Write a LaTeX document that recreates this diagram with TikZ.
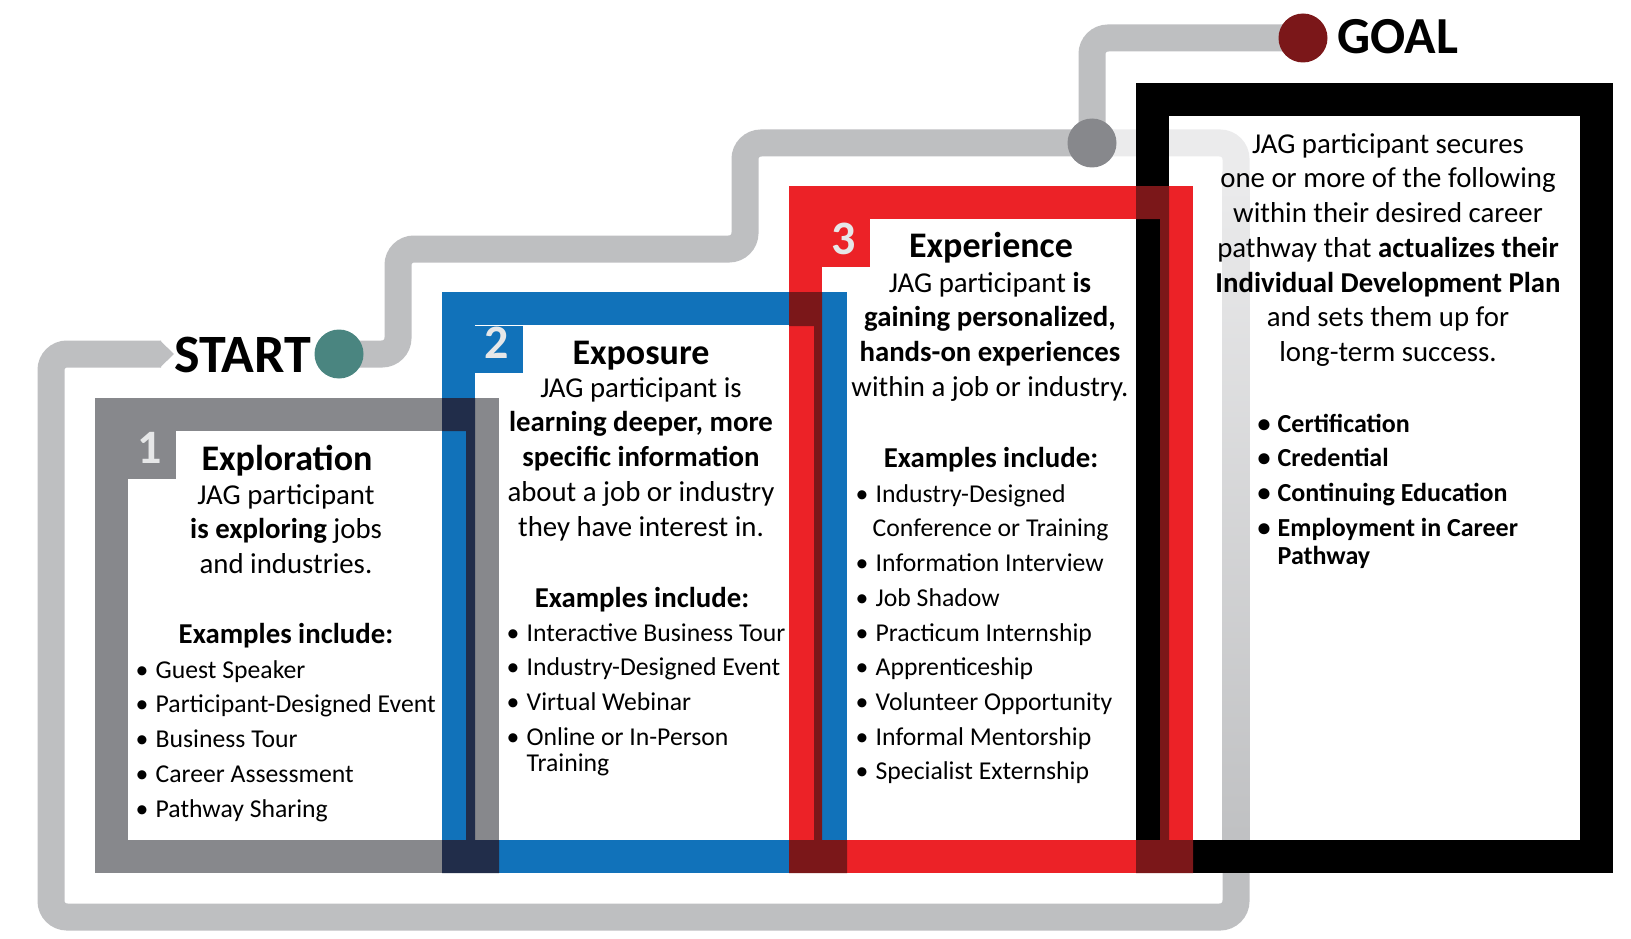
\documentclass[tikz,border=0pt]{standalone}
\usepackage{fontspec}
\setmainfont{Carlito}
\usetikzlibrary{backgrounds}

\definecolor{pathgray}{HTML}{BEBFC1}
\definecolor{pathlight}{HTML}{EBEBEC}
\definecolor{stepgray}{HTML}{87888C}
\definecolor{stepblue}{HTML}{1172BA}
\definecolor{stepred}{HTML}{EC2227}
\definecolor{stepnavy}{HTML}{212D4A}
\definecolor{stepdark}{HTML}{7B1719}
\definecolor{startteal}{HTML}{4A8580}
\definecolor{numgray}{HTML}{E6E7E8}

\newcommand{\stepbullet}{\makebox[20pt][l]{\textbullet}}

\begin{document}
\begin{tikzpicture}[x=1pt, y=-1pt,
    road/.style={line width=27pt, pathgray, rounded corners=16pt},
    stepband/.style={line width=33pt},
    pathdot/.style={circle, minimum size=49pt, inner sep=0pt},
    stepnum/.style={font=\fontsize{48}{48}\selectfont\bfseries, text=numgray, inner sep=0pt},
    steptitle/.style={font=\fontsize{36}{40}\selectfont\bfseries, anchor=base, inner sep=0pt},
    stepsub/.style={font=\fontsize{28.8}{34.7}\selectfont\bfseries, anchor=base, inner sep=0pt},
    stepbody/.style={font=\fontsize{28.8}{34.7}\selectfont, align=center, anchor=north, inner sep=0pt},
    steplist/.style={font=\fontsize{25.7}{34.7}\selectfont, align=left, anchor=north west, inner sep=0pt},
    bigword/.style={anchor=base west, inner sep=0pt}]
       \useasboundingbox (0,0) rectangle (1631,939);

       % the four steps
       \draw[stepband, stepgray]  (111.5,414.5) rectangle (482.5,856.5);
       \draw[stepband, stepblue]  (458.5,308.5) rectangle (830.5,856.5);
       \draw[stepband, stepred]   (805.5,202.5) rectangle (1176.5,856.5);
       \draw[stepband, black]     (1152.5,99.5) rectangle (1596.5,856.5);
       \fill[stepnavy] (442,398) rectangle (475,431) (466,398) rectangle (475,873)
                       (442,840) rectangle (499,873);
       \fill[stepdark] (789,292) rectangle (822,326) (814,292) rectangle (822,873)
                       (789,840) rectangle (847,873);
       \fill[stepdark] (1136,186) rectangle (1169,219) (1160,186) rectangle (1169,873)
                       (1136,840) rectangle (1193,873);
       \fill[stepgray] (127,431) rectangle (176,479);
       \fill[stepblue] (475,326) rectangle (523,373);
       \fill[stepred]  (822,219) rectangle (870,267);
       \node at (150,448) [stepnum] (num1) {1};
       \node at (497,343) [stepnum] (num2) {2};
       \node at (844,239) [stepnum] (num3) {3};

       % start and goal
       \node at (339,354) [pathdot, fill=startteal] (startdot) {};
       \node at (1092,143) [pathdot, fill=stepgray] (middot) {};
       \node at (1303,38) [pathdot, fill=stepdark] (goaldot) {};
       \coordinate (starttip) at (161,354);
       \node at (174,372) [bigword, font=\fontsize{54}{54}\selectfont\bfseries] (starttxt) {START};
       \node at (1337,54) [bigword, font=\fontsize{52}{52}\selectfont\bfseries] (goaltxt) {GOAL};

       \begin{scope}[on background layer]
         \draw[road] (startdot.center) -- (398,354) -- (398,249) -- (745,249)
                     -- (745,143) -- (middot.center);
         \draw[road] (middot.center) |- (goaldot.center);
         \fill[pathgray] (160,340.5) -- (174,354) -- (160,367.5) -- cycle;
         \draw[road] (starttip) -- (51,354) -- (51,917) -- (1236,917) -- (1236,860);
         \draw[road, pathlight] (middot.center) -- (1236,143) -- (1236,180);
         \shade[top color=pathlight, bottom color=pathgray] (1222.5,172) rectangle (1249.5,866);
       \end{scope}

       % step 1
       \node at (287,470) [steptitle] (title1) {Exploration};
       \node at (286,482) [stepbody] (body1) {\rule{0pt}{22pt}JAG participant\\
         {\bfseries is exploring} jobs\\and industries.};
       \node at (286,643) [stepsub] (sub1) {Examples include:};
       \node at (135.5,656) [steplist] (list1) {\rule{0pt}{22pt}\stepbullet Guest Speaker\\
         \stepbullet Participant-Designed Event\\\stepbullet Business Tour\\
         \stepbullet Career Assessment\\\stepbullet Pathway Sharing};

       % step 2
       \node at (641,364) [steptitle] (title2) {Exposure};
       \node at (641,375) [stepbody] (body2) {\rule{0pt}{22pt}JAG participant is\\
         {\bfseries learning deeper, more}\\{\bfseries specific information}\\
         about a job or industry\\they have interest in.};
       \node at (642,607) [stepsub] (sub2) {Examples include:};
       \node at (506.5,619) [steplist] (list2) {\rule{0pt}{22pt}\stepbullet Interactive Business Tour\\
         \stepbullet Industry-Designed Event\\\stepbullet Virtual Webinar\\
         \stepbullet Online or In-Person\\[-8.7pt]\hspace*{20pt}Training};

       % step 3
       \node at (991,257) [steptitle] (title3) {Experience};
       \node at (990,270) [stepbody] (body3) {\rule{0pt}{22pt}JAG participant {\bfseries is}\\
         {\bfseries gaining personalized,}\\{\bfseries hands-on experiences}\\
         within a job or industry.};
       \node at (991,467) [stepsub] (sub3) {Examples include:};
       \node at (855.5,480) [steplist] (list3) {\rule{0pt}{22pt}\stepbullet Industry-Designed\\
         \hspace*{17pt}Conference or Training\\\stepbullet Information Interview\\
         \stepbullet Job Shadow\\\stepbullet Practicum Internship\\
         \stepbullet Apprenticeship\\\stepbullet Volunteer Opportunity\\
         \stepbullet Informal Mentorship\\\stepbullet Specialist Externship};

       % goal step
       \node at (1388,131) [stepbody] (body4) {\rule{0pt}{22pt}JAG participant secures\\
         one or more of the following\\within their desired career\\
         pathway that {\bfseries actualizes their}\\{\bfseries Individual Development Plan}\\
         and sets them up for\\long-term success.};
       \node at (1257.5,410) [steplist, font=\fontsize{26}{34.7}\selectfont\bfseries] (list4)
         {\rule{0pt}{22pt}\stepbullet Certification\\\stepbullet Credential\\
         \stepbullet Continuing Education\\\stepbullet Employment in Career\\[-6.7pt]
         \hspace*{20pt}Pathway};
\end{tikzpicture}
\end{document}
